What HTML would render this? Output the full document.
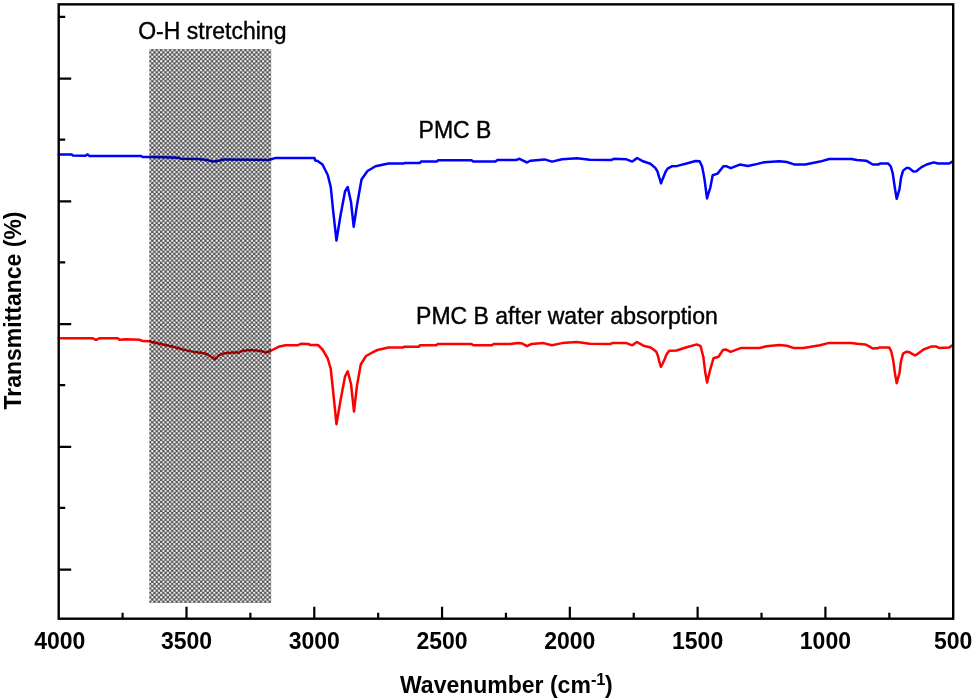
<!DOCTYPE html>
<html><head><meta charset="utf-8"><style>
html,body{margin:0;padding:0;background:#fff;}
svg{display:block;font-family:"Liberation Sans",sans-serif;}
</style></head><body>
<svg width="975" height="700" viewBox="0 0 975 700">
<defs>
<pattern id="chk" x="151.2" y="250.65" width="4.43" height="4.43" patternUnits="userSpaceOnUse">
<rect x="0" y="0" width="4.43" height="4.43" fill="#505050"/>
<rect x="0.1" y="0.1" width="2.0" height="2.0" fill="#fff"/>
<rect x="2.315" y="2.315" width="2.0" height="2.0" fill="#fff"/>
</pattern>
</defs>
<rect x="0" y="0" width="975" height="700" fill="#fff"/>
<polyline fill="none" stroke="#0000ff" stroke-width="2.5" stroke-linejoin="round" stroke-linecap="round" points="58.7,154.5 72,154.6 73,155.6 85.5,155.7 87.6,154.4 89.5,155.9 141,156 142.5,156.9 150.7,157.1 164.6,157.3 178.6,157.7 181,158.8 197.4,159.1 205.6,159.8 213.8,161.6 220,160.5 223,159.4 269,160 275.7,157.9 313.5,157.9 314.5,158.1 315.3,160.5 317.6,160.9 322.5,164.5 327.75,175 330.75,187 333,209.5 336.45,240.5 340.5,215.5 345,191.5 347.7,187 351,202 353.7,226.8 357,205 361.5,179.5 367.5,171 375.5,166.2 388.5,163.5 404,163.5 405,162.9 420,162.9 421,161.6 437,161.6 438,160.3 471.5,160.3 473.4,161.6 495.5,161.6 497.4,160.1 515.8,160.1 519.5,158.8 523.2,160.7 527,162.5 530.6,160.7 544.6,159.4 552,161.6 562.2,159.2 577,158.3 589.8,159.8 611,160.1 613.8,158.8 625.8,159.2 632.3,161.6 637.2,158 643,161.3 650.4,163.8 655.3,167.9 657.5,171.5 658.6,175.3 660,180 661,183.3 662,180.5 663.5,176.9 665.5,172 667.6,168.7 671.7,166.3 677.4,165.9 685.6,163.8 695.5,161 699.6,161.3 702,166.3 703.2,172 704.5,179.4 705.8,189 707,198.4 708.6,193 710.3,187.6 712.7,175.3 717.6,173.6 723.4,166.3 726.7,166.3 730.8,168.2 739.8,164.6 748,165.9 754.6,164.6 764.4,162.2 779.4,161.2 786.8,162 794.1,164.4 805.2,164.4 820,161.6 829.2,159 851.4,159 856.9,160.1 866.1,160.7 869.2,162.4 872.8,164.5 878,164.5 880.5,163.5 888.2,163.5 890.8,166.5 892.8,173.7 894.9,188.1 896.7,198.8 899.5,189.1 901,177.8 903.1,170.6 906.2,168.1 909.2,168.1 913.3,171.5 916.4,171.2 921.5,167.1 926.7,164.5 933.8,162.4 938,163.5 949.2,163.5 952.8,161.4"/>
<polyline fill="none" stroke="#ff0000" stroke-width="2.5" stroke-linejoin="round" stroke-linecap="round" points="58.7,338.3 92.8,338.3 96,339.8 99.3,338.3 117.8,338.3 119.6,339.8 126,339.2 139.9,339.8 142.7,341.1 149.1,341.2 158.4,343.5 173.1,346.8 184.2,349.9 193.7,351.9 199.2,352.5 205.4,353.5 210.3,356.2 214.9,359.3 218.9,355.3 224.5,353.2 233.1,352.5 239.2,352.5 242.3,350.7 250.8,350 261,351 266.2,352.6 270.3,351 279.5,346.4 285.6,345.2 298,345.2 301,343.8 308.2,344 310.5,345 318,345 322.5,349.5 327.75,358.5 330.75,369 333.3,393 336.45,424.2 340.5,400.5 345,376.5 347.7,371.25 351,384 354,411.6 357,385.5 360.75,364.5 366,356 373.5,351.8 377.4,350 388.5,347.5 403,347.5 404,346.8 418.9,346.8 419.9,345.3 436.5,345.3 437.5,344 471.5,344 473.4,345.3 491.8,345.3 493.7,344 510.3,344 517.7,342.9 522.3,343.5 526.9,346.2 531.5,344 543.5,343.1 552,345.3 562.2,343.1 577,342 589.8,343.8 610.2,344 612.9,342.9 625.8,342.9 632.3,345.3 636.9,342 643.4,345.7 650.8,347.5 656.3,351.8 658,356 659.1,361 660.9,366.8 662.5,364 664.6,359.2 666.5,354.5 669.2,350.8 676.6,350.5 685.8,347.5 696.9,344.4 700.6,346.2 703.4,357.3 705.2,372.1 707.1,382.4 709.8,371.2 713.5,358.2 718.5,356.8 723,349.9 725.8,349.4 730.5,351.8 740.6,348.1 759.1,348.1 766.5,346.2 779.4,344.9 786.8,345.7 794.1,348.1 803.4,348.1 820,345.3 829.2,342.9 851.4,342.9 856.9,343.8 865.1,344.4 869.2,346.4 872.8,348.5 877.4,348.3 879.5,347.4 889.2,347.4 891.3,351.5 893.3,360.8 894.9,373.1 896.7,383.2 899.5,373.1 901,360.8 903.1,353.6 906.2,351.7 909.2,352.1 914.9,355.4 917.4,354.1 923.6,349.5 931.8,346.4 935.9,346.4 939,347.9 949.2,347.6 952.8,344.9"/>
<rect x="149.3" y="49" width="121.9" height="554" fill="url(#chk)" style="mix-blend-mode:multiply"/>
<rect x="58.7" y="4.35" width="894.50" height="614.35" fill="none" stroke="#000" stroke-width="2.4"/>
<path d="M58.7,78.60H71.2 M58.7,16.80H65.2 M58.7,201.35H71.2 M58.7,139.55H65.2 M58.7,324.10H71.2 M58.7,262.30H65.2 M58.7,446.85H71.2 M58.7,385.05H65.2 M58.7,569.60H71.2 M58.7,507.80H65.2 M122.59,618.7V612.7 M186.49,618.7V606.7 M250.38,618.7V612.7 M314.27,618.7V606.7 M378.16,618.7V612.7 M442.06,618.7V606.7 M505.95,618.7V612.7 M569.84,618.7V606.7 M633.74,618.7V612.7 M697.63,618.7V606.7 M761.52,618.7V612.7 M825.41,618.7V606.7 M889.31,618.7V612.7" stroke="#000" stroke-width="2.2" fill="none"/>
<g font-size="23" font-weight="bold" fill="#000"><text x="59.80" y="648.9" text-anchor="middle">4000</text><text x="186.49" y="648.9" text-anchor="middle">3500</text><text x="314.27" y="648.9" text-anchor="middle">3000</text><text x="442.06" y="648.9" text-anchor="middle">2500</text><text x="569.84" y="648.9" text-anchor="middle">2000</text><text x="697.63" y="648.9" text-anchor="middle">1500</text><text x="825.41" y="648.9" text-anchor="middle">1000</text><text x="953.20" y="648.9" text-anchor="middle">500</text></g>
<text x="400" y="693.1" font-size="23" font-weight="bold">Wavenumber (cm<tspan font-size="16.5" dy="-8.5">-1</tspan><tspan dy="8.5" dx="-0.6">)</tspan></text>
<text transform="translate(20.6,409.6) rotate(-90)" x="0" y="0" font-size="23" font-weight="bold">Transmittance (%)</text>
<text x="138.2" y="39.1" font-size="23" stroke="#000" stroke-width="0.4">O-H stretching</text>
<text x="418.6" y="138.2" font-size="23" stroke="#000" stroke-width="0.4">PMC B</text>
<text x="416.1" y="324" font-size="23" stroke="#000" stroke-width="0.4">PMC B after water absorption</text>
</svg>
</body></html>
